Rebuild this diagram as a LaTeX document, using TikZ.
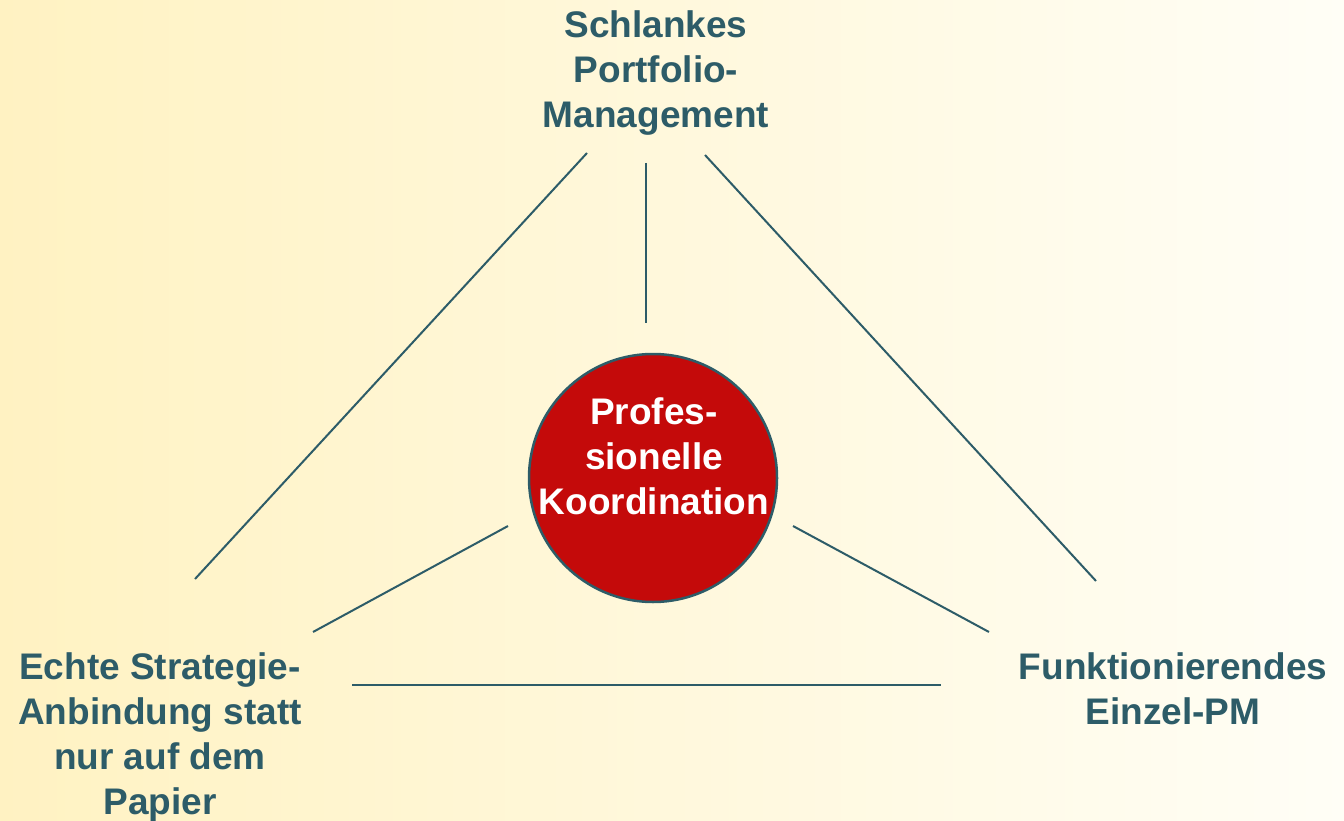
\documentclass[tikz,border=0pt]{standalone}
\usepackage{fontspec}
\setmainfont{Liberation Sans}
\definecolor{teal}{RGB}{45,92,104}
\definecolor{bgleft}{RGB}{255,242,194}
\definecolor{bgright}{RGB}{255,254,246}
\definecolor{discred}{RGB}{196,10,10}
\tikzset{
  label/.style={text=teal, font=\bfseries\fontsize{37}{45}\selectfont, align=center, inner sep=0pt},
  link/.style={draw=teal, line width=2pt},
}
\begin{document}
\begin{tikzpicture}[x=1pt,y=-1pt]
  % page background with horizontal gradient
  \shade[left color=bgleft, right color=bgright] (0,0) rectangle (1344,821);
  \useasboundingbox (0,0) rectangle (1344,821);

  % corner topics
  \node[label, anchor=north] (top) at (656,10) {Schlankes\\Portfolio-\\Management};
  \node[label, anchor=north] (left) at (160,652) {Echte Strategie-\\Anbindung statt\\nur auf dem\\Papier};
  \node[label, anchor=north] (right) at (1173,652) {Funktionierendes\\Einzel-PM};

  % central disc and its caption
  \node[circle, minimum size=248pt, fill=discred, draw=teal, line width=2.5pt, inner sep=0pt]
        (core) at (653,478) {};
  \node[label, text=white, anchor=north] (coretext) at (654,397) {Profes-\\sionelle\\Koordination};

  % free ends of the connecting strokes
  \coordinate (tl1) at (587,153); \coordinate (tl2) at (195,579);
  \coordinate (tv1) at (646,163); \coordinate (tv2) at (646,323);
  \coordinate (tr1) at (705,155); \coordinate (tr2) at (1096,581);
  \coordinate (lm1) at (508,526); \coordinate (lm2) at (313,632);
  \coordinate (rm1) at (793,526); \coordinate (rm2) at (989,632);
  \coordinate (bt1) at (352,685); \coordinate (bt2) at (941,685);

  \draw[link] (tl1) -- (tl2);
  \draw[link] (tv1) -- (tv2);
  \draw[link] (tr1) -- (tr2);
  \draw[link] (lm1) -- (lm2);
  \draw[link] (rm1) -- (rm2);
  \draw[link] (bt1) -- (bt2);
\end{tikzpicture}
\end{document}
